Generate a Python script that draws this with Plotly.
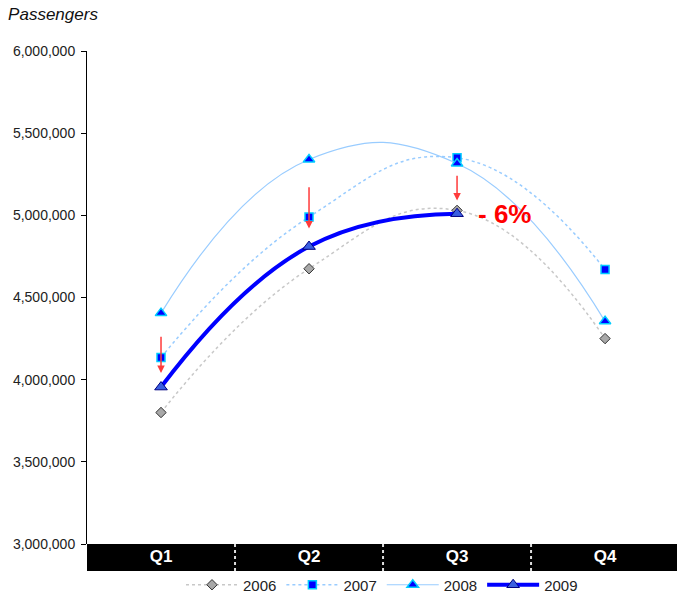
import plotly.graph_objects as go

# Quarterly passenger counts
quarters = ["Q1", "Q2", "Q3", "Q4"]
pax_2006 = [3800000, 4675000, 5030000, 4250000]
pax_2007 = [4135000, 4990000, 5350000, 4670000]
pax_2008 = [4405000, 5340000, 5315000, 4355000]
pax_2009 = [3955000, 4810000, 5010000, None]

y_ticks = [3000000, 3500000, 4000000, 4500000, 5000000, 5500000, 6000000]

# Red arrows: (quarter index, tail value, head value)
drop_arrows = [(0, 4270000, 4040000), (1, 5180000, 4920000), (2, 5250000, 5090000)]
change_label = "- 6%"

FONT = "Liberation Sans, Arial, Helvetica, sans-serif"
SMOOTH = 1.3

fig = go.Figure()

fig.add_trace(go.Scatter(
    x=quarters, y=pax_2006, name="2006", mode="lines+markers",
    line=dict(color="#c8c8c8", width=1.5, dash="dot", shape="spline", smoothing=SMOOTH),
    marker=dict(symbol="diamond", size=8, color="#a8a8a8",
                line=dict(color="#333333", width=1)),
))
fig.add_trace(go.Scatter(
    x=quarters, y=pax_2007, name="2007", mode="lines+markers",
    line=dict(color="#99ccff", width=1.5, dash="dot", shape="spline", smoothing=SMOOTH),
    marker=dict(symbol="square", size=8, color="#0000ff",
                line=dict(color="#00ccff", width=1.5)),
))
fig.add_trace(go.Scatter(
    x=quarters, y=pax_2008, name="2008", mode="lines+markers",
    line=dict(color="#99ccff", width=1.2, shape="spline", smoothing=SMOOTH),
    marker=dict(symbol="triangle-up", size=10, color="#0000ff",
                line=dict(color="#00ccff", width=1.5)),
))
fig.add_trace(go.Scatter(
    x=quarters, y=pax_2009, name="2009", mode="lines+markers",
    line=dict(color="#0000ff", width=4, shape="spline", smoothing=SMOOTH),
    marker=dict(symbol="triangle-up", size=11, color="#3a5fe0",
                line=dict(color="#000080", width=1)),
))

annotations = []
for qi, tail, head in drop_arrows:
    annotations.append(dict(
        x=qi, y=head, ax=qi, ay=tail, xref="x", yref="y", axref="x", ayref="y",
        text="", showarrow=True, arrowhead=2, arrowsize=1, arrowwidth=1.5,
        arrowcolor="#ff3b3b",
    ))
annotations.append(dict(
    x=2, y=pax_2009[2], xref="x", yref="y", text=change_label, showarrow=False,
    xshift=47, font=dict(family=FONT, size=26, color="#ff0000", weight="bold"),
))

# Black category band under the plot with white dashed separators
shapes = [dict(type="rect", xref="paper", yref="paper", x0=0, x1=1,
               y0=-27 / 493, y1=0, fillcolor="black", line=dict(width=0),
               layer="below")]
for k in range(len(quarters) - 1):
    shapes.append(dict(type="line", xref="x", yref="paper", x0=k + 0.5, x1=k + 0.5,
                       y0=-27 / 493, y1=0, line=dict(color="#dddddd", width=2, dash="dot"),
                       layer="below"))

fig.update_layout(
    width=677, height=600,
    margin=dict(l=87, r=0, t=51, b=56),
    paper_bgcolor="white", plot_bgcolor="white",
    font=dict(family=FONT, size=14, color="#222222"),
    title=dict(text="<i>Passengers</i>", x=0.012, xanchor="left", y=1 - 14 / 600,
               yanchor="middle", font=dict(family=FONT, size=17, color="#111111")),
    xaxis=dict(
        type="category", range=[-0.5, 3.486], showgrid=False, showline=False,
        zeroline=False, ticks="",
        tickfont=dict(family=FONT, size=17, color="white", weight="bold"),
    ),
    yaxis=dict(
        range=[3000000, 6000000], tickvals=y_ticks, tickformat=",",
        showgrid=False, zeroline=False, showline=True, linecolor="black", linewidth=1,
        ticks="outside", ticklen=5, tickcolor="black", ticklabelstandoff=3,
        tickfont=dict(family=FONT, size=14, color="#222222"),
    ),
    legend=dict(orientation="h", xref="paper", yref="container",
                x=0.5, xanchor="center", y=1 - 585 / 600, yanchor="middle",
                font=dict(family=FONT, size=15, color="#222222"),
                bgcolor="rgba(0,0,0,0)",
                itemwidth=52, tracegroupgap=0),
    showlegend=True,
    annotations=annotations,
    shapes=shapes,
)

fig.write_html("out.html")
